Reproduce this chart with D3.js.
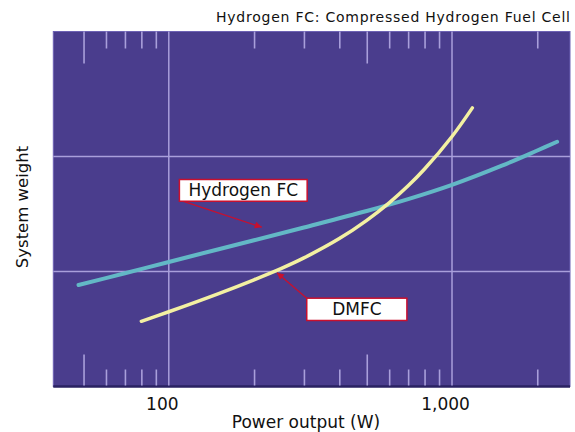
<!DOCTYPE html>
<html>
<head>
<meta charset="utf-8">
<script src="https://cdn.jsdelivr.net/npm/d3@7/dist/d3.min.js"></script>
<style>
  html, body { margin: 0; padding: 0; background: #ffffff; }
  svg { display: block; }
  text { font-family: "DejaVu Sans", "Noto Sans", sans-serif; fill: #111; }
</style>
</head>
<body>
<svg id="chart" width="575" height="432"></svg>
<script>
// ---------- data ----------
const hydrogenPower  = [48, 70, 100, 150, 200, 300, 500, 700, 1000, 1500, 2000, 2350];
const hydrogenWeight = [0.883, 0.985, 1.083, 1.194, 1.272, 1.383, 1.526, 1.629, 1.753, 1.920, 2.052, 2.128];

const dmfcPower  = [80, 100, 150, 200, 250, 300, 400, 500, 600, 700, 800, 1000, 1180];
const dmfcWeight = [0.567, 0.650, 0.808, 0.928, 1.027, 1.118, 1.286, 1.445, 1.597, 1.745, 1.891, 2.174, 2.423];

const xGridValues  = [100, 1000];
const yGridValues  = [1, 2];
const xLabelValues = [100, 1000];
const majorTicks   = [50, 500];
const minorTicks   = [60, 70, 80, 90, 200, 300, 400, 600, 700, 800, 900, 2000];

const titleText  = "Hydrogen FC: Compressed Hydrogen Fuel Cell";
const xAxisTitle = "Power output (W)";
const yAxisTitle = "System weight";

// annotation boxes (in data space: power, weight)
const labelNames   = ["Hydrogen FC", "DMFC"];
const labelBoxX0   = [109, 307];
const labelBoxX1   = [308, 693];
const labelBoxYTop = [1.80, 0.768];
const labelBoxYBot = [1.611, 0.574];
const arrowFromX   = [112, 307];
const arrowFromY   = [1.611, 0.768];
const arrowToX     = [213, 241];
const arrowToY     = [1.385, 0.99];

// ---------- layout ----------
const svg = d3.select("#chart");
const pLeft = 53.3, pRight = 570, pTop = 31.5, pBottom = 386.5;

const x = d3.scaleLog().domain([39.1, 2610]).range([pLeft, pRight]);
const y = d3.scaleLinear().domain([0, 3.087]).range([pBottom, pTop]);

const bg = "#4a3d8d";
const gridColor = "#a99fdb";

// plot background
svg.append("rect")
  .attr("x", pLeft).attr("y", pTop)
  .attr("width", pRight - pLeft).attr("height", pBottom - pTop)
  .attr("fill", bg)
  .attr("stroke", "#6d62b4").attr("stroke-width", 1);

// bottom shadow edge
svg.append("line")
  .attr("x1", pLeft).attr("x2", pRight)
  .attr("y1", pBottom).attr("y2", pBottom)
  .attr("stroke", "#2a2262").attr("stroke-width", 2.5);

// gridlines
svg.append("g").selectAll("line").data(xGridValues).join("line")
  .attr("x1", d => x(d)).attr("x2", d => x(d))
  .attr("y1", pTop).attr("y2", pBottom - 1)
  .attr("stroke", gridColor).attr("stroke-width", 1.5);
svg.append("g").selectAll("line").data(yGridValues).join("line")
  .attr("x1", pLeft).attr("x2", pRight)
  .attr("y1", d => y(d)).attr("y2", d => y(d))
  .attr("stroke", gridColor).attr("stroke-width", 1.5);

// tick marks inside the plot (top and bottom)
function tickAxis(axisGen, values, size, ty) {
  const g = svg.append("g")
    .attr("transform", `translate(0,${ty})`)
    .call(axisGen(x).tickValues(values).tickSize(size).tickFormat(""));
  g.select(".domain").remove();
  g.selectAll(".tick line").attr("stroke", gridColor).attr("stroke-width", 1.6);
}
tickAxis(d3.axisBottom, majorTicks, -31, pBottom - 1);
tickAxis(d3.axisBottom, minorTicks, -16, pBottom - 1);
tickAxis(d3.axisTop, majorTicks, -32, pTop);
tickAxis(d3.axisTop, minorTicks, -17, pTop);

// x tick labels
const xl = svg.append("g")
  .attr("transform", `translate(0,${pBottom})`)
  .call(d3.axisBottom(x).tickValues(xLabelValues).tickSize(0).tickPadding(11)
    .tickFormat(d3.format(",")));
xl.select(".domain").remove();
xl.selectAll(".tick text")
  .attr("font-size", 17)
  .attr("font-family", "DejaVu Sans, sans-serif")
  .attr("fill", "#111")
  .attr("dx", -7);

// curves
const line = d3.line().x(d => x(d[0])).y(d => y(d[1])).curve(d3.curveCatmullRom.alpha(0.5));
svg.append("path")
  .datum(d3.zip(hydrogenPower, hydrogenWeight))
  .attr("d", line)
  .attr("fill", "none")
  .attr("stroke", "#63b8c6")
  .attr("stroke-width", 4)
  .attr("stroke-linecap", "round");
svg.append("path")
  .datum(d3.zip(dmfcPower, dmfcWeight))
  .attr("d", line)
  .attr("fill", "none")
  .attr("stroke", "#f3f0a2")
  .attr("stroke-width", 3.5)
  .attr("stroke-linecap", "round");

// arrowhead marker
const red = "#c8102e";
svg.append("defs").append("marker")
  .attr("id", "arrow")
  .attr("viewBox", "0 0 10 10")
  .attr("refX", 10).attr("refY", 5)
  .attr("markerWidth", 10).attr("markerHeight", 7)
  .attr("markerUnits", "userSpaceOnUse")
  .attr("orient", "auto")
  .append("path")
  .attr("d", "M0,0 L10,5 L0,10 Z")
  .attr("fill", red);

// annotations
labelNames.forEach((name, i) => {
  svg.append("line")
    .attr("x1", x(arrowFromX[i])).attr("y1", y(arrowFromY[i]))
    .attr("x2", x(arrowToX[i])).attr("y2", y(arrowToY[i]))
    .attr("stroke", red).attr("stroke-width", 1.3)
    .attr("marker-end", "url(#arrow)");
  const bx0 = x(labelBoxX0[i]), bx1 = x(labelBoxX1[i]);
  const by0 = y(labelBoxYTop[i]), by1 = y(labelBoxYBot[i]);
  svg.append("rect")
    .attr("x", bx0).attr("y", by0)
    .attr("width", bx1 - bx0).attr("height", by1 - by0)
    .attr("fill", "#ffffff")
    .attr("stroke", red).attr("stroke-width", 1.5);
  svg.append("text")
    .attr("x", (bx0 + bx1) / 2).attr("y", (by0 + by1) / 2 + 6)
    .attr("text-anchor", "middle")
    .attr("font-size", 17)
    .text(name);
});

// title
svg.append("text")
  .attr("x", 570).attr("y", 22)
  .attr("text-anchor", "end")
  .attr("font-size", 14)
  .attr("textLength", 354)
  .attr("lengthAdjust", "spacing")
  .text(titleText);

// axis titles
svg.append("text")
  .attr("x", 306).attr("y", 428)
  .attr("text-anchor", "middle")
  .attr("font-size", 17)
  .text(xAxisTitle);
svg.append("text")
  .attr("transform", `translate(28,207) rotate(-90)`)
  .attr("text-anchor", "middle")
  .attr("font-size", 16.5)
  .text(yAxisTitle);
</script>
</body>
</html>
